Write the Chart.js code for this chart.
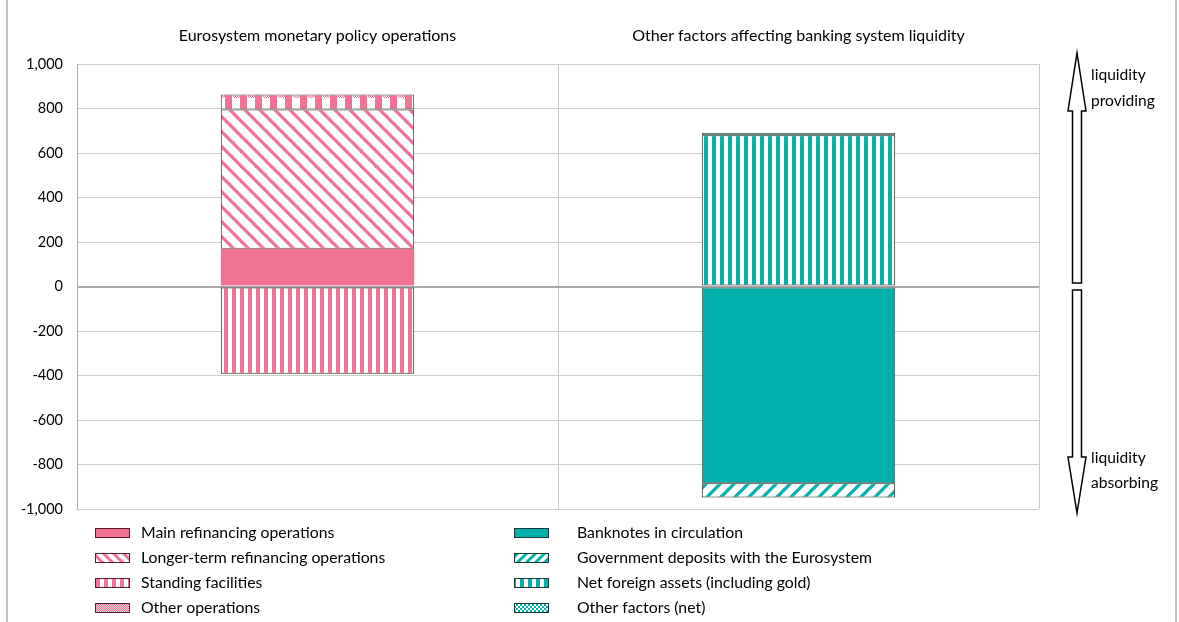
<!DOCTYPE html>
<html><head><meta charset="utf-8">
<script src="https://cdn.jsdelivr.net/npm/chart.js@4.4.0/dist/chart.umd.min.js"></script>
<style>
html,body{margin:0;padding:0;background:#fff;}
#wrap{position:relative;width:1179px;height:622px;}
canvas{display:block;}
</style></head><body>
<div id="wrap"><canvas id="c" width="1179" height="622"></canvas></div>
<script>
// ---- data ----
const categories = ['Eurosystem monetary policy operations', 'Other factors affecting banking system liquidity'];
const mainRefinancing = [170, null];
const longerTermRefinancing = [625, null];
const standingFacilities = [-392, null];
const otherOperations = [68, null];
const banknotes = [null, -884];
const governmentDeposits = [null, -64];
const netForeignAssets = [null, 680];
const otherFactors = [null, 11];
const seriesNames = ['Main refinancing operations', 'Longer-term refinancing operations', 'Standing facilities', 'Other operations',
  'Banknotes in circulation', 'Government deposits with the Eurosystem', 'Net foreign assets (including gold)', 'Other factors (net)'];
const yMin = -1000, yMax = 1000, yStep = 200;
const sideLabels = [['liquidity', 'providing'], ['liquidity', 'absorbing']];

// ---- styles ----
const PINK = '#F27294';
const TEAL = '#02B1AC';
const FONT = 'Lato, "Open Sans", sans-serif';

function tile(w, h, draw) {
  const c = document.createElement('canvas');
  c.width = w; c.height = h;
  const g = c.getContext('2d');
  g.fillStyle = '#fff'; g.fillRect(0, 0, w, h);
  draw(g, w, h);
  return document.getElementById('c').getContext('2d').createPattern(c, 'repeat');
}
function diag(color, s, lw, dir) {
  return tile(s, s, (g) => {
    g.strokeStyle = color; g.lineWidth = lw; g.lineCap = 'square';
    for (let k = -s; k <= s; k += s) {
      g.beginPath();
      if (dir === 'back') { g.moveTo(k, 0); g.lineTo(k + s, s); }
      else { g.moveTo(k, s); g.lineTo(k + s, 0); }
      g.stroke();
    }
  });
}
function vstripe(color, period, w) {
  return tile(period, 8, (g) => { g.fillStyle = color; g.fillRect(0, 0, w, 8); });
}
function checker(color, cell, color2) {
  return tile(cell * 2, cell * 2, (g) => {
    g.fillStyle = color2 || '#fff'; g.fillRect(0, 0, cell * 2, cell * 2);
    g.fillStyle = color; g.fillRect(0, 0, cell, cell); g.fillRect(cell, cell, cell, cell);
  });
}
function otherOpsPattern() {
  return tile(15, 16, (g) => {
    g.fillStyle = PINK;
    g.fillRect(0, 0, 7, 16);
    for (let x = 8; x < 15; x += 2) { g.fillRect(x, 0, 1, 1); g.fillRect(x, 15, 1, 1); g.fillRect(x + 1, 1, 1, 1); }
  });
}

const fills = [
  PINK,
  diag(PINK, 15, 3.2, 'back'),
  vstripe(PINK, 8, 4),
  otherOpsPattern(),
  TEAL,
  diag(TEAL, 14, 3.2, 'fwd'),
  vstripe(TEAL, 8, 4),
  checker(TEAL, 1, '#2E7D3C')
];
const legendFills = fills.slice();
legendFills[1] = diag(PINK, 10, 3, 'back');
legendFills[3] = checker(PINK, 1, '#fbd3dd');
legendFills[5] = diag(TEAL, 9, 3, 'fwd');
legendFills[7] = checker(TEAL, 2, '#ffffff');
const borders = ['rgba(0,0,0,0)', '#333', '#222', '#444', '#555', '#222', '#222', '#555'];
const borderWidths = [0, 1, 1, 1, 1, 1, 1, 1];

const seriesData = [mainRefinancing, longerTermRefinancing, standingFacilities, otherOperations,
  banknotes, governmentDeposits, netForeignAssets, otherFactors];

const datasets = seriesData.map((d, i) => ({
  label: seriesNames[i],
  data: d,
  backgroundColor: fills[i],
  borderColor: borders[i],
  borderWidth: borderWidths[i],
  borderSkipped: false,
  categoryPercentage: 1,
  barPercentage: 0.402
}));

// ---- plugins ----
const extras = {
  id: 'extras',
  afterDraw(chart) {
    const ctx = chart.ctx;
    ctx.save();
    // frame lines
    ctx.strokeStyle = '#c4c4c4'; ctx.lineWidth = 2;
    ctx.beginPath(); ctx.moveTo(7, 0); ctx.lineTo(7, 622); ctx.moveTo(1176, 0); ctx.lineTo(1176, 622); ctx.stroke();

    // legend
    ctx.font = '15.8px ' + FONT;
    ctx.textBaseline = 'middle';
    ctx.textAlign = 'left';
    const rows = [533, 558, 583, 608];
    const cols = [{ sx: 95, tx: 141 }, { sx: 514, tx: 577 }];
    seriesNames.forEach((name, i) => {
      const col = cols[Math.floor(i / 4)];
      const y = rows[i % 4];
      ctx.fillStyle = legendFills[i];
      ctx.fillRect(col.sx, y - 5, 35, 10);
      ctx.strokeStyle = i < 4 ? '#5a1a2a' : '#1a3a3a';
      ctx.lineWidth = 1;
      ctx.strokeRect(col.sx + 0.5, y - 4.5, 34, 9);
      ctx.fillStyle = '#000';
      ctx.fillText(name, col.tx, y);
    });

    // arrows
    ctx.strokeStyle = '#000'; ctx.lineWidth = 1.5; ctx.fillStyle = '#fff';
    const cx = 1077, sh = 4.5, hw = 9;
    ctx.beginPath();
    ctx.moveTo(cx, 53); ctx.lineTo(cx + hw, 111); ctx.lineTo(cx + sh, 111); ctx.lineTo(cx + sh, 283);
    ctx.lineTo(cx - sh, 283); ctx.lineTo(cx - sh, 111); ctx.lineTo(cx - hw, 111); ctx.closePath();
    ctx.fill(); ctx.stroke();
    ctx.beginPath();
    ctx.moveTo(cx, 513); ctx.lineTo(cx + hw, 457); ctx.lineTo(cx + sh, 457); ctx.lineTo(cx + sh, 290);
    ctx.lineTo(cx - sh, 290); ctx.lineTo(cx - sh, 457); ctx.lineTo(cx - hw, 457); ctx.closePath();
    ctx.fill(); ctx.stroke();
    ctx.fillStyle = '#000';
    ctx.font = '15.6px ' + FONT;
    ctx.fillText(sideLabels[0][0], 1091, 75);
    ctx.fillText(sideLabels[0][1], 1091, 101);
    ctx.fillText(sideLabels[1][0], 1091, 458);
    ctx.fillText(sideLabels[1][1], 1091, 483);
    ctx.restore();
  }
};

new Chart(document.getElementById('c'), {
  type: 'bar',
  data: { labels: categories, datasets },
  options: {
    responsive: false,
    devicePixelRatio: 1,
    animation: false,
    layout: { padding: { left: 0, top: 0, right: 140, bottom: 113 } },
    plugins: { legend: { display: false }, tooltip: { enabled: false } },
    scales: {
      x: {
        position: 'top',
        stacked: true,
        offset: true,
        grid: { offset: true, drawTicks: false, color: '#c8c8c8', lineWidth: 1 },
        border: { display: false },
        ticks: { padding: 19, color: '#000', font: { family: FONT, size: 16 }, maxRotation: 0 },
        afterFit(s) { s.height = 64; }
      },
      y: {
        stacked: true,
        min: yMin, max: yMax,
        ticks: {
          stepSize: yStep, padding: 14, color: '#000',
          font: { family: FONT, size: 14.5 },
          callback: (v) => v.toLocaleString('en-US')
        },
        grid: {
          drawTicks: false,
          color: (c) => c.tick && c.tick.value === 0 ? '#a9a9a9' : '#cdcdcd',
          lineWidth: (c) => c.tick && c.tick.value === 0 ? 2 : 1
        },
        border: { display: true, color: '#a9a9a9', width: 1 },
        afterFit(s) { s.width = 77; }
      }
    }
  },
  plugins: [extras]
});
</script>
</body></html>
